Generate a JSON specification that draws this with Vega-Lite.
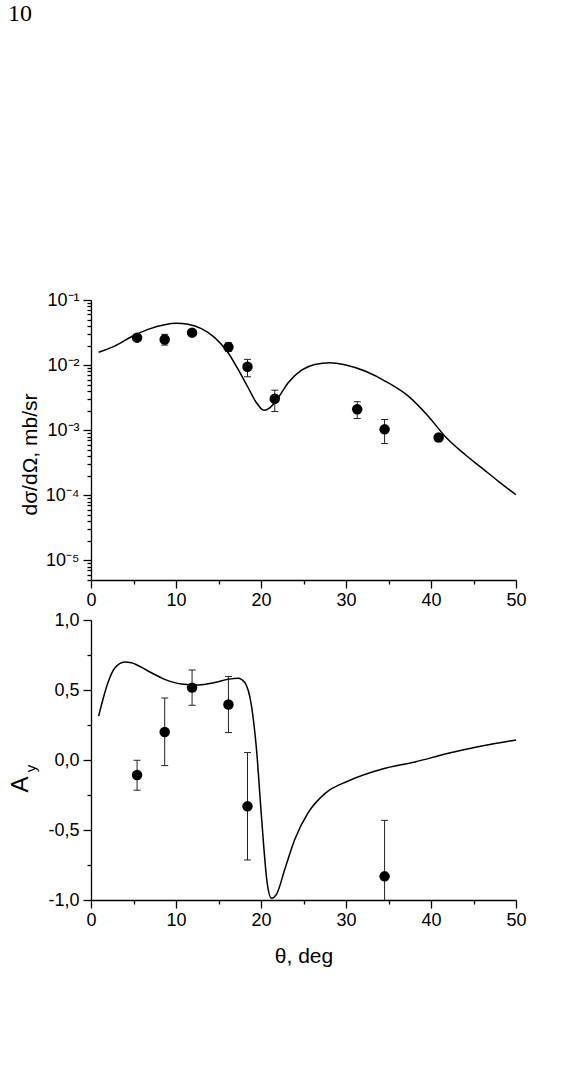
{
  "$schema": "https://vega.github.io/schema/vega-lite/v6.json",
  "background": "white",
  "padding": {"left": 8, "top": 2, "right": 5, "bottom": 5},
  "title": {
    "text": "10",
    "anchor": "start",
    "frame": "bounds",
    "font": "Liberation Serif",
    "fontSize": 24,
    "fontWeight": "normal",
    "color": "black",
    "offset": 265
  },
  "datasets": {
    "xsCurve": [
      {"theta": 0.9, "xs": 0.0158},
      {"theta": 2.78, "xs": 0.0196},
      {"theta": 4.75, "xs": 0.0273},
      {"theta": 6.71, "xs": 0.0354},
      {"theta": 8.67, "xs": 0.0418},
      {"theta": 10.04, "xs": 0.0438},
      {"theta": 11.42, "xs": 0.0423},
      {"theta": 12.99, "xs": 0.0363},
      {"theta": 14.56, "xs": 0.0264},
      {"theta": 16.13, "xs": 0.0155},
      {"theta": 17.31, "xs": 0.0086},
      {"theta": 18.49, "xs": 0.00449},
      {"theta": 19.47, "xs": 0.00264},
      {"theta": 20.33, "xs": 0.00203},
      {"theta": 21.03, "xs": 0.00221},
      {"theta": 22.02, "xs": 0.00315},
      {"theta": 23.2, "xs": 0.00535},
      {"theta": 24.77, "xs": 0.00837},
      {"theta": 26.33, "xs": 0.01025},
      {"theta": 28.1, "xs": 0.0109},
      {"theta": 29.87, "xs": 0.01014},
      {"theta": 32.22, "xs": 0.0081},
      {"theta": 34.97, "xs": 0.00535},
      {"theta": 37.33, "xs": 0.00334},
      {"theta": 39.68, "xs": 0.00164},
      {"theta": 41.64, "xs": 0.000809},
      {"theta": 44.0, "xs": 0.000423},
      {"theta": 45.96, "xs": 0.000264},
      {"theta": 47.93, "xs": 0.000164},
      {"theta": 50.0, "xs": 0.000102}
    ],
    "xsData": [
      {"theta": 5.42, "xs": 0.0264},
      {"theta": 8.67, "xs": 0.0248, "lo": 0.0203, "hi": 0.0297},
      {"theta": 11.89, "xs": 0.0315},
      {"theta": 16.17, "xs": 0.0189, "lo": 0.0163, "hi": 0.0221},
      {"theta": 18.41, "xs": 0.00944, "lo": 0.00662, "hi": 0.01225},
      {"theta": 21.62, "xs": 0.00304, "lo": 0.00194, "hi": 0.00412},
      {"theta": 31.32, "xs": 0.0021, "lo": 0.00151, "hi": 0.00274},
      {"theta": 34.54, "xs": 0.00103, "lo": 0.000624, "hi": 0.00146},
      {"theta": 40.9, "xs": 0.000773}
    ],
    "ayCurve": [
      {"theta": 0.9, "ay": 0.314},
      {"theta": 1.41, "ay": 0.434},
      {"theta": 2.0, "ay": 0.553},
      {"theta": 2.78, "ay": 0.655},
      {"theta": 3.96, "ay": 0.7},
      {"theta": 4.75, "ay": 0.695},
      {"theta": 6.71, "ay": 0.636},
      {"theta": 8.67, "ay": 0.576},
      {"theta": 10.63, "ay": 0.543},
      {"theta": 12.6, "ay": 0.536},
      {"theta": 14.56, "ay": 0.553},
      {"theta": 16.13, "ay": 0.576},
      {"theta": 17.31, "ay": 0.584},
      {"theta": 18.09, "ay": 0.553},
      {"theta": 18.88, "ay": 0.386},
      {"theta": 19.47, "ay": 0.076},
      {"theta": 20.05, "ay": -0.4},
      {"theta": 20.72, "ay": -0.876},
      {"theta": 21.23, "ay": -0.988},
      {"theta": 21.82, "ay": -0.96},
      {"theta": 22.8, "ay": -0.781},
      {"theta": 23.98, "ay": -0.566},
      {"theta": 25.55, "ay": -0.376},
      {"theta": 27.51, "ay": -0.24},
      {"theta": 30.26, "ay": -0.15},
      {"theta": 34.18, "ay": -0.066},
      {"theta": 38.11, "ay": -0.014},
      {"theta": 42.04, "ay": 0.048},
      {"theta": 45.96, "ay": 0.1},
      {"theta": 50.0, "ay": 0.143}
    ],
    "ayData": [
      {"theta": 5.42, "ay": -0.107, "lo": -0.216, "hi": -0.002},
      {"theta": 8.67, "ay": 0.2, "lo": -0.04, "hi": 0.443},
      {"theta": 11.89, "ay": 0.517, "lo": 0.391, "hi": 0.643},
      {"theta": 16.17, "ay": 0.396, "lo": 0.196, "hi": 0.596},
      {"theta": 18.41, "ay": -0.331, "lo": -0.714, "hi": 0.053},
      {"theta": 34.54, "ay": -0.831, "lo": -1.231, "hi": -0.431}
    ]
  },
  "spacing": 40,
  "bounds": "flush",
  "vconcat": [
    {
      "width": 425,
      "height": 280,
      "encoding": {
        "x": {
          "field": "theta",
          "type": "quantitative",
          "scale": {"domain": [0, 50], "nice": false, "zero": false},
          "axis": {
            "title": null,
            "values": [0, 5, 10, 15, 20, 25, 30, 35, 40, 45, 50],
            "labelExpr": "datum.value % 10 === 0 ? datum.label : ''",
            "tickSize": {"condition": {"test": "datum.value % 10 === 0", "value": 8}, "value": 4},
            "labelFlush": false,
            "labelOverlap": false,
            "labelPadding": 3
          }
        }
      },
      "layer": [
        {
          "data": {"name": "xsCurve"},
          "mark": {"type": "line", "color": "black", "strokeWidth": 1.5, "interpolate": "monotone"},
          "encoding": {
            "y": {
              "field": "xs",
              "type": "quantitative",
              "scale": {"type": "log", "domain": [0.000005, 0.1], "nice": false},
              "axis": {
                "title": "dσ/dΩ, mb/sr",
                "titleFontSize": 21,
                "titleAngle": 270,
                "titleAlign": "center",
                "titleBaseline": "alphabetic",
                "titleX": -55,
                "titleY": 154,
                "values": [
                  0.000005, 0.000006, 0.000007, 0.000008, 0.000009,
                  0.00001, 0.00002, 0.00003, 0.00004, 0.00005, 0.00006, 0.00007, 0.00008, 0.00009,
                  0.0001, 0.0002, 0.0003, 0.0004, 0.0005, 0.0006, 0.0007, 0.0008, 0.0009,
                  0.001, 0.002, 0.003, 0.004, 0.005, 0.006, 0.007, 0.008, 0.009,
                  0.01, 0.02, 0.03, 0.04, 0.05, 0.06, 0.07, 0.08, 0.09,
                  0.1
                ],
                "labelExpr": "abs(log(datum.value)/LN10 - round(log(datum.value)/LN10)) < 1e-6 ? '10' + ['⁻¹','⁻²','⁻³','⁻⁴','⁻⁵'][round(-log(datum.value)/LN10) - 1] : ''",
                "tickSize": {"condition": {"test": "abs(log(datum.value)/LN10 - round(log(datum.value)/LN10)) < 1e-6", "value": 8}, "value": 4},
                "labelOverlap": false,
                "labelPadding": 4
              }
            }
          }
        },
        {
          "data": {"name": "xsData"},
          "transform": [{"filter": "isValid(datum.lo)"}],
          "mark": {"type": "rule", "color": "#222222", "strokeWidth": 1},
          "encoding": {
            "y": {"field": "lo", "type": "quantitative"},
            "y2": {"field": "hi"}
          }
        },
        {
          "data": {"name": "xsData"},
          "transform": [
            {"filter": "isValid(datum.lo)"},
            {"fold": ["lo", "hi"], "as": ["end", "bound"]}
          ],
          "mark": {"type": "tick", "orient": "horizontal", "size": 7, "thickness": 1, "color": "#222222", "opacity": 1},
          "encoding": {
            "y": {"field": "bound", "type": "quantitative"}
          }
        },
        {
          "data": {"name": "xsData"},
          "mark": {"type": "circle", "size": 110, "color": "black", "opacity": 1},
          "encoding": {
            "y": {"field": "xs", "type": "quantitative"}
          }
        }
      ]
    },
    {
      "width": 425,
      "height": 280,
      "resolve": {"axis": {"y": "independent"}},
      "encoding": {
        "x": {
          "field": "theta",
          "type": "quantitative",
          "scale": {"domain": [0, 50], "nice": false, "zero": false},
          "axis": {
            "title": "θ, deg",
            "titleFontSize": 21,
            "titlePadding": 16,
            "values": [0, 5, 10, 15, 20, 25, 30, 35, 40, 45, 50],
            "labelExpr": "datum.value % 10 === 0 ? datum.label : ''",
            "tickSize": {"condition": {"test": "datum.value % 10 === 0", "value": 8}, "value": 4},
            "labelFlush": false,
            "labelOverlap": false,
            "labelPadding": 3
          }
        }
      },
      "layer": [
        {
          "data": {"name": "ayCurve"},
          "mark": {"type": "line", "color": "black", "strokeWidth": 1.5, "interpolate": "monotone"},
          "encoding": {
            "y": {
              "field": "ay",
              "type": "quantitative",
              "scale": {"domain": [-1, 1], "nice": false, "zero": false},
              "axis": {
                "title": "A",
                "titleFontSize": 24,
                "titleAngle": 270,
                "titleAlign": "center",
                "titleBaseline": "alphabetic",
                "titleX": -64,
                "titleY": 164,
                "values": [-1, -0.75, -0.5, -0.25, 0, 0.25, 0.5, 0.75, 1],
                "labelExpr": "abs(datum.value*2 - round(datum.value*2)) < 1e-6 ? (datum.value < 0 ? '-' : '') + replace(format(abs(datum.value), '.1f'), '.', ',') : ''",
                "tickSize": {"condition": {"test": "abs(datum.value*2 - round(datum.value*2)) < 1e-6", "value": 8}, "value": 4},
                "labelOverlap": false,
                "labelPadding": 4
              }
            }
          }
        },
        {
          "data": {"name": "ayData"},
          "mark": {"type": "rule", "color": "#222222", "strokeWidth": 1, "clip": true},
          "encoding": {
            "y": {
              "field": "lo",
              "type": "quantitative",
              "axis": {
                "orient": "left",
                "title": "y",
                "titleFontSize": 15,
                "titleAngle": 270,
                "titleAlign": "center",
                "titleBaseline": "alphabetic",
                "titleX": -56,
                "titleY": 148,
                "labels": false,
                "ticks": false,
                "domain": false
              }
            },
            "y2": {"field": "hi"}
          }
        },
        {
          "data": {"name": "ayData"},
          "transform": [{"fold": ["lo", "hi"], "as": ["end", "bound"]}],
          "mark": {"type": "tick", "orient": "horizontal", "size": 7, "thickness": 1, "color": "#222222", "opacity": 1, "clip": true},
          "encoding": {
            "y": {"field": "bound", "type": "quantitative", "axis": null}
          }
        },
        {
          "data": {"name": "ayData"},
          "mark": {"type": "circle", "size": 110, "color": "black", "opacity": 1},
          "encoding": {
            "y": {"field": "ay", "type": "quantitative", "axis": null}
          }
        }
      ]
    }
  ],
  "config": {
    "font": "Liberation Sans",
    "view": {"stroke": null},
    "axis": {
      "grid": false,
      "domainColor": "black",
      "domainWidth": 1.3,
      "tickColor": "black",
      "tickWidth": 1.3,
      "labelFont": "Liberation Sans",
      "labelFontSize": 18,
      "labelColor": "black",
      "titleFont": "Liberation Sans",
      "titleFontSize": 20,
      "titleFontWeight": "normal",
      "titleColor": "black"
    }
  }
}
